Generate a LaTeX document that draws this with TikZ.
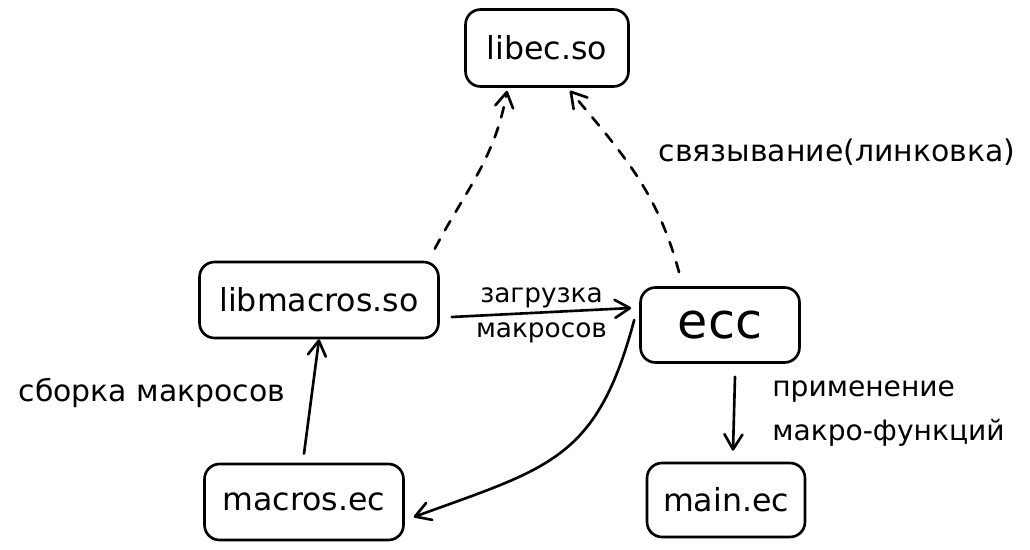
\documentclass[tikz,border=0pt]{standalone}
\usepackage{fontspec}
\setmainfont{DejaVu Sans}
\usetikzlibrary{arrows.meta, calc, positioning}

\tikzset{
  file/.style={draw, line width=1.5pt, rounded corners=0.3cm, inner sep=0pt,
    font=\fontsize{18}{20}\selectfont},
  link/.style={line width=1.5pt, line cap=round,
    -{Straight Barb[length=0.3cm, width=0.36cm, line join=round, line cap=round]}},
  linkdash/.style={link, dash pattern=on 6pt off 6pt},
  lbl/.style={inner sep=0pt, font=\fontsize{17}{20}\selectfont},
  small/.style={inner sep=1pt, font=\fontsize{15}{18}\selectfont},
}

\begin{document}
\begin{tikzpicture}[x=0.02cm, y=-0.02cm]
    \useasboundingbox (0,0) rectangle (1030,550);
    % files
    \node[file, minimum width=3.26cm, minimum height=1.54cm] (libec) at (547,48) {libec.so};
    \node[file, minimum width=4.78cm, minimum height=1.52cm] (libmacros) at (319,300) {libmacros.so};
    \node[file, minimum width=3.18cm, minimum height=1.50cm, font=\fontsize{28}{30}\selectfont] (ecc) at (720,325) {ecc};
    \node[file, minimum width=3.98cm, minimum height=1.52cm] (macrosec) at (304,502) {macros.ec};
    \node[file, minimum width=3.16cm, minimum height=1.48cm] (mainec) at (726,500) {main.ec};

    % texts
    \node[lbl] (link) at (837,152) {связывание(линковка)};
    \node[lbl] (build) at (152,393) {сборка макросов};
    \node[lbl, font=\fontsize{16}{25}\selectfont, align=left, anchor=west] (apply) at (772,414) {применение\\макро-функций};

    % arrows
    \draw[linkdash] ([xshift=-0.1cm, yshift=0.24cm]libmacros.north east) to[out=62, in=-100]
        ([xshift=-0.8cm, yshift=-0.06cm]libec.south);
    \draw[linkdash] ([xshift=-0.82cm, yshift=0.28cm]ecc.north) to[out=105, in=-50]
        ([xshift=0.46cm, yshift=-0.06cm]libec.south);
    \draw[link] ([xshift=0.24cm, yshift=-0.34cm]libmacros.east) --
        node[small, above=1pt] (load1) {загрузка}
        node[small, below=4pt] (load2) {макросов}
        ([xshift=-0.16cm, yshift=0.34cm]ecc.west);
    \draw[link] ([xshift=-0.1cm, yshift=0.1cm]ecc.west) to[out=-105, in=20, looseness=1.25]
        ([xshift=0.18cm, yshift=-0.3cm]macrosec.east);
    \draw[link] ([yshift=0.18cm]macrosec.north) -- (libmacros.south);
    \draw[link] ([xshift=0.3cm, yshift=-0.26cm]ecc.south) -- ([xshift=0.14cm, yshift=0.22cm]mainec.north);
\end{tikzpicture}
\end{document}
